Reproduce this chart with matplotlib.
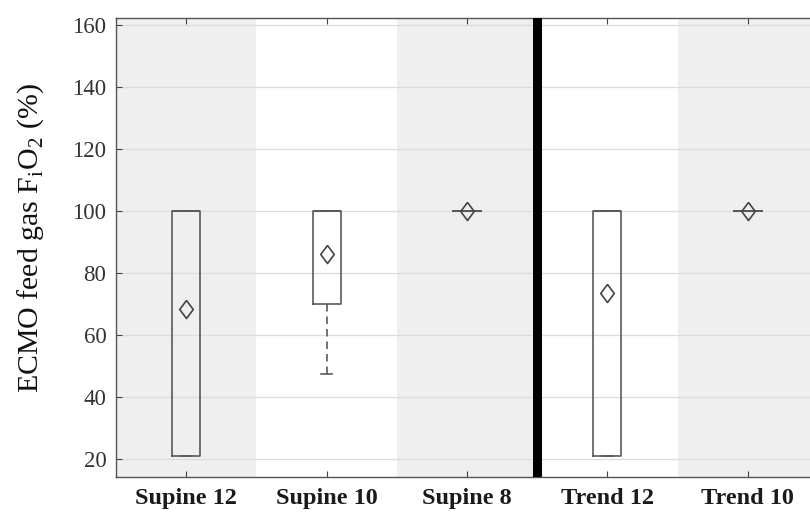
import matplotlib
matplotlib.use("Agg")
import matplotlib.pyplot as plt

categories = ["Supine 12", "Supine 10", "Supine 8", "Trend 12", "Trend 10"]
q1 = [21, 70, 100, 21, 100]
q3 = [100, 100, 100, 100, 100]
medians = [100, 100, 100, 100, 100]
whisk_lo = [21, 47.5, 100, 21, 100]
whisk_hi = [100, 100, 100, 100, 100]
means = [68.3, 86.3, 100, 73.6, 100]
yticks = [20, 40, 60, 80, 100, 120, 140, 160]

plt.rcParams['font.family'] = ['Liberation Serif', 'DejaVu Serif']
plt.rcParams['mathtext.fontset'] = 'custom'
plt.rcParams['mathtext.rm'] = 'Liberation Serif'

fig = plt.figure(figsize=(8.1, 5.13), dpi=100)
ax = fig.add_axes([116/810, 36/513, 702/810, 459/513])

pos = list(range(1, len(categories) + 1))
for p in pos:
    if p % 2 == 1:
        ax.axvspan(p - 0.5, p + 0.5, color='#efefef', zorder=0, lw=0)

edge = '#5a5a5a'
stats = []
for i in range(len(categories)):
    stats.append(dict(q1=q1[i], q3=q3[i], med=medians[i], whislo=whisk_lo[i],
                      whishi=whisk_hi[i], mean=means[i], fliers=[], label=categories[i]))
ax.bxp(stats, positions=pos, widths=0.2, showmeans=True, showfliers=False,
       capwidths=0.08,
       boxprops=dict(color=edge, lw=1.2),
       medianprops=dict(color=edge, lw=1.2),
       whiskerprops=dict(color=edge, lw=1.2, linestyle=(0, (4.5, 3))),
       capprops=dict(color=edge, lw=1.2),
       meanprops=dict(marker=[(0, 1), (0.75, 0), (0, -1), (-0.75, 0), (0, 1)],
                      markersize=13, markerfacecolor='none',
                      markeredgecolor='#444444', markeredgewidth=1.2),
       zorder=3)

ax.axvline(3.5, color='black', lw=6.5, zorder=4)

ax.set_xlim(0.5, 5.5)
ax.set_ylim(14.2, 162.3)
ax.set_yticks(yticks)
ax.set_xticks(pos)
ax.set_xticklabels(categories, fontsize=17.5, fontweight='bold', color='#1a1a1a')
ax.tick_params(axis='y', direction='in', length=4, labelsize=16.5, colors='#444444',
               labelcolor='#333333', pad=7)
ax.tick_params(axis='x', direction='in', length=4, top=True, colors='#444444',
               labelcolor='#1a1a1a', pad=8)

ax.grid(axis='y', color='#dcdcdc', lw=0.9, zorder=0.5)
ax.set_axisbelow(True)
for s in ['left', 'top', 'bottom']:
    ax.spines[s].set_color('#555555')
    ax.spines[s].set_linewidth(1.0)
ax.spines['right'].set_visible(False)

ax.set_ylabel(r'ECMO feed gas F$_\mathregular{i}$O$_\mathregular{2}$ (%)', fontsize=21.5,
              color='#111111')
ax.yaxis.set_label_coords(-0.1, 0.52)

fig.savefig('out.png', dpi=100)
